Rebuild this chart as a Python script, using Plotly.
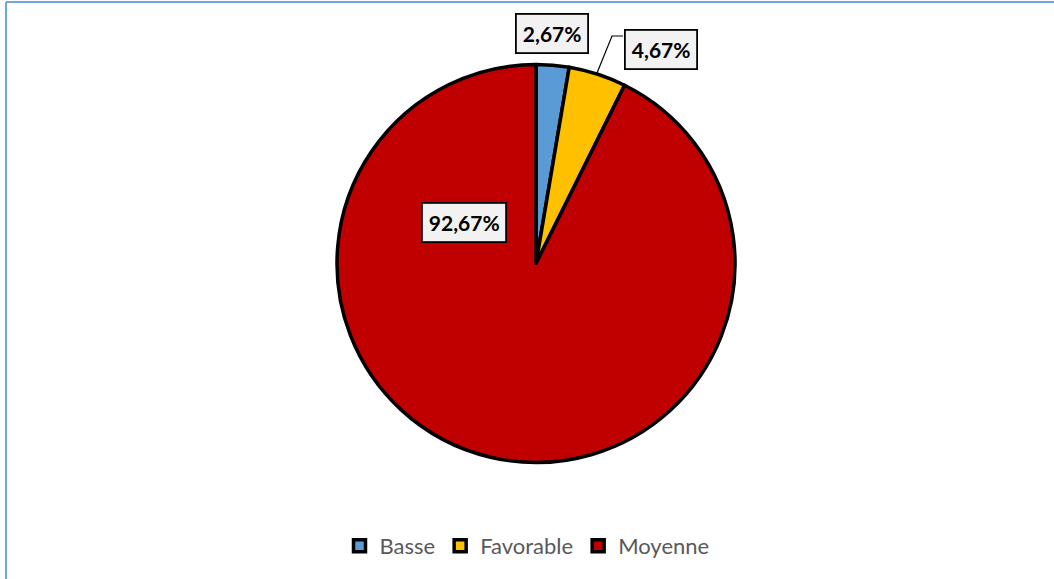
import plotly.graph_objects as go

# Répartition par catégorie
categories = ["Basse", "Favorable", "Moyenne"]
values = [2.67, 4.67, 92.67]
colors = ["#5b9bd5", "#ffc000", "#c00000"]

W, H = 1054, 579


def px(x):
    return x / W


def py(y):
    return 1 - y / H


def fmt(v):
    return f"{v:.2f}".replace(".", ",") + "%"


fig = go.Figure(
    go.Pie(
        labels=categories,
        values=values,
        sort=False,
        direction="clockwise",
        rotation=0,
        marker=dict(colors=colors, line=dict(color="black", width=3.5)),
        textinfo="none",
        hoverinfo="label+value",
        domain=dict(x=[px(337), px(735)], y=[py(463), py(64)]),
    )
)

# Étiquettes de données en boîtes
label_pos = [(552, 34), (661, 49), (464, 222)]
for v, (x, y) in zip(values, label_pos):
    fig.add_annotation(
        x=px(x), y=py(y), xref="paper", yref="paper",
        xanchor="center", yanchor="middle",
        text=f"<b>{fmt(v)}</b>", showarrow=False,
        font=dict(family="Lato", size=21, color="black"),
        bgcolor="#f2f2f2", bordercolor="black", borderwidth=1.8, borderpad=6,
    )

# Ligne de rappel vers l'étiquette "Favorable"
fig.add_shape(type="path", xref="paper", yref="paper",
              path=f"M {px(597)} {py(73)} L {px(612)} {py(36)} L {px(623)} {py(36)}",
              line=dict(color="black", width=1.2))

# Cadre de la zone de graphique
fig.add_shape(type="line", xref="paper", yref="paper",
              x0=px(6), y0=py(2), x1=1, y1=py(2),
              line=dict(color="#6fa6dc", width=2))
fig.add_shape(type="line", xref="paper", yref="paper",
              x0=px(6), y0=py(2), x1=px(6), y1=0,
              line=dict(color="#6fa6dc", width=2))

fig.update_layout(
    width=W, height=H,
    margin=dict(l=0, r=0, t=0, b=0),
    paper_bgcolor="white",
    plot_bgcolor="white",
    showlegend=True,
    legend=dict(
        orientation="h", x=0.5, xanchor="center", y=py(546), yanchor="middle",
        font=dict(family="Lato", size=22, color="#595959"),
        itemwidth=30, traceorder="normal",
    ),
)

fig.write_html("out.html")
